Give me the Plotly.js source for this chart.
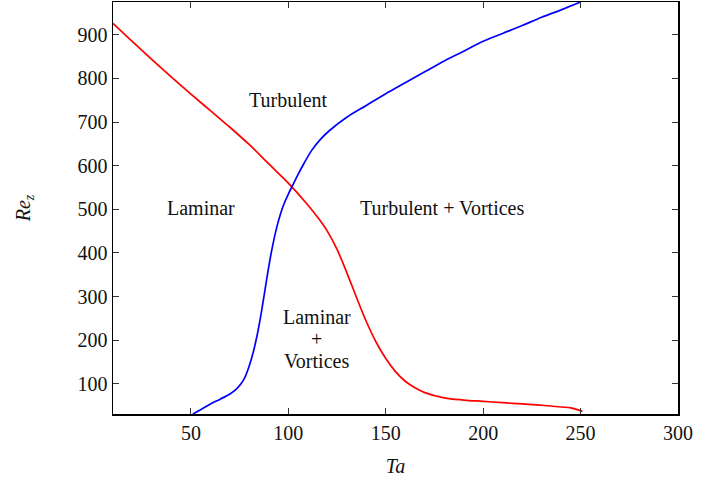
<!DOCTYPE html>
<html>
<head>
<meta charset="utf-8">
<script src="https://cdn.plot.ly/plotly-3.0.1.min.js"></script>
<style>html,body{margin:0;padding:0;background:#fff;}#chart{width:715px;height:480px;}
#chart text{font-family:"Liberation Serif", serif !important;}</style>
</head>
<body>
<div id="chart"></div>
<script>
// Red boundary (Laminar / Turbulent)
const redTa = [10, 20, 30, 40, 50, 60, 70, 80, 90, 100, 110, 115, 120, 125, 130, 135, 140, 145, 150, 155, 160, 165, 170, 180, 190, 200, 210, 220, 230, 240, 245, 251];
const redRe = [926, 884, 843, 803, 764, 726, 688, 648, 604, 560, 510, 482, 450, 408, 355, 298, 243, 196, 158, 128, 106, 91, 80, 68, 63, 60, 57, 54, 51, 47, 45, 37];
// Blue boundary (no vortices / vortices)
const blueTa = [51, 55, 60, 65, 70, 73, 76, 78, 80, 82, 84, 86, 88, 90, 92, 94, 96, 98, 100, 102, 105, 108, 112, 116, 121, 130, 140, 150, 160, 170, 180, 190, 200, 210, 220, 230, 240, 250];
const blueRe = [31, 41, 54, 65, 77, 87, 102, 118, 142, 173, 212, 260, 315, 370, 418, 458, 490, 515, 535, 553, 580, 605, 635, 658, 680, 711, 738, 765, 790, 815, 840, 862, 885, 903, 921, 940, 957, 975];
// Region labels
const labelText = ["Turbulent", "Laminar", "Turbulent + Vortices", "Laminar", "+", "Vortices"];
const labelTa = [100, 55, 179, 114.7, 114.7, 114.7];
const labelRe = [751, 502, 502, 253, 203, 153];
const xTicks = [50, 100, 150, 200, 250, 300];
const yTicks = [100, 200, 300, 400, 500, 600, 700, 800, 900];

function mkFont() { return {family: "Liberation Serif, serif", size: 20, color: "#111"}; }

const traces = [
  {x: redTa, y: redRe, mode: "lines", line: {color: "#ff0000", width: 1.7, shape: "spline", smoothing: 1}, hoverinfo: "skip"},
  {x: blueTa, y: blueRe, mode: "lines", line: {color: "#0000ff", width: 1.7, shape: "spline", smoothing: 1}, hoverinfo: "skip"}
];

const annotations = labelText.map((t, i) => ({
  x: labelTa[i], y: labelRe[i], xref: "x", yref: "y", text: t, showarrow: false,
  font: mkFont(), align: "center"
}));

const layout = {
  width: 715, height: 480,
  margin: {l: 113, r: 37, t: 2, b: 66},
  paper_bgcolor: "#fff", plot_bgcolor: "#fff",
  showlegend: false,
  font: mkFont(),
  xaxis: {
    range: [10, 300], tickvals: xTicks, ticks: "inside", ticklen: 6, tickwidth: 1, tickcolor: "#333",
    showline: true, linecolor: "#000", linewidth: 1.5, mirror: "ticks", showgrid: false, zeroline: false,
    title: {text: "<i>Ta</i>", font: mkFont(), standoff: 16},
    tickfont: mkFont()
  },
  yaxis: {
    range: [31, 975], tickvals: yTicks, ticks: "inside", ticklen: 6, tickwidth: 1, tickcolor: "#333",
    showline: true, linecolor: "#000", linewidth: 1.5, mirror: "ticks", showgrid: false, zeroline: false,
    title: {text: "<i>Re</i><sub><i>z</i></sub>", font: mkFont(), standoff: 41},
    tickfont: mkFont()
  },
  annotations: annotations
};

Plotly.newPlot("chart", traces, layout, {displayModeBar: false, staticPlot: true});
</script>
</body>
</html>
